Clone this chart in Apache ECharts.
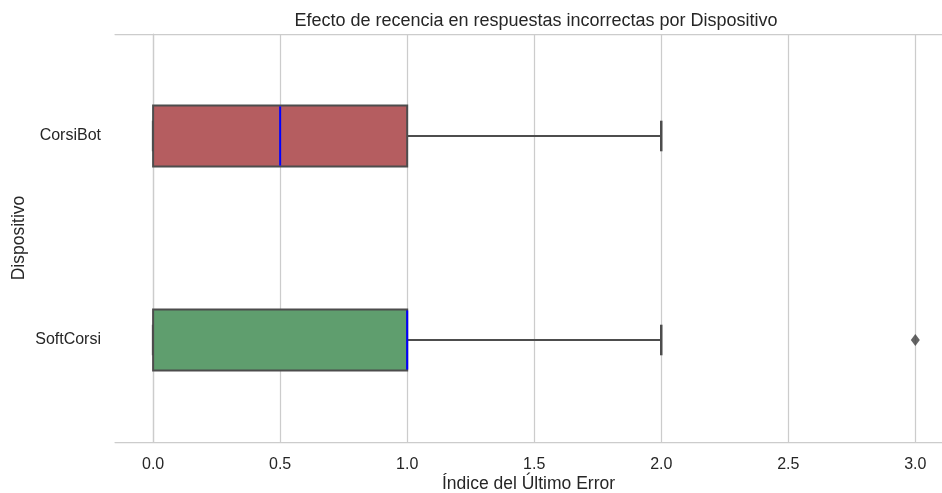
<!DOCTYPE html>
<html>
<head>
<meta charset="utf-8">
<script src="https://cdn.jsdelivr.net/npm/echarts@6/dist/echarts.min.js"></script>
<style>html,body{margin:0;padding:0;background:#fff}#c{width:942px;height:493px}</style>
</head>
<body>
<div id="c"></div>
<script>
const categories = ['CorsiBot', 'SoftCorsi'];
const whiskerLow = [0, 0];
const q1 = [0, 0];
const median = [0.5, 1];
const q3 = [1, 1];
const whiskerHigh = [2, 2];
const outliers = [[3, 'SoftCorsi']];

const fillColors = ['#b55d60', '#5f9e6e'];
const edge = '#4d4d4d';
const FONT = 'Liberation Sans';

const boxData = categories.map((c, i) => [i, whiskerLow[i], q1[i], median[i], q3[i], whiskerHigh[i]]);

const chart = echarts.init(document.getElementById('c'));
chart.setOption({
  animation: false,
  backgroundColor: '#fff',
  title: {
    text: 'Efecto de recencia en respuestas incorrectas por Dispositivo',
    left: 531, textAlign: 'center', top: 7,
    textStyle: { fontFamily: FONT, fontSize: 18, fontWeight: 'normal', color: '#262626' }
  },
  grid: { left: 115, top: 34, right: 0, bottom: 51, outerBoundsMode: 'none', containLabel: false },
  xAxis: [{
    type: 'value', min: -0.15, max: 3.105,
    name: 'Índice del Último Error', nameLocation: 'middle', nameGap: 33, nameMoveOverlap: false,
    nameTextStyle: { fontFamily: FONT, fontSize: 17.5, color: '#262626' },
    axisLine: { show: true, onZero: false, lineStyle: { color: '#cccccc', width: 1.25 } },
    axisTick: { show: false },
    axisLabel: {
      showMinLabel: false, showMaxLabel: false, margin: 15,
      fontFamily: FONT, fontSize: 16, color: '#262626',
      formatter: v => v.toFixed(1)
    },
    splitLine: { show: true, showMinLine: false, showMaxLine: false, lineStyle: { color: '#cccccc', width: 1.25 } }
  }, {
    type: 'value', position: 'top', min: -0.15, max: 3.105,
    axisLine: { show: true, onZero: false, lineStyle: { color: '#cccccc', width: 1.25 } },
    axisTick: { show: false }, axisLabel: { show: false }, splitLine: { show: false }
  }],
  yAxis: {
    type: 'category', data: categories, inverse: true,
    name: 'Dispositivo', nameLocation: 'middle', nameGap: 87, nameRotate: 90, nameMoveOverlap: false,
    nameTextStyle: { fontFamily: FONT, fontSize: 17.5, color: '#262626' },
    axisLine: { show: true, lineStyle: { color: '#cccccc', width: 1.25 } },
    axisTick: { show: false },
    axisLabel: { margin: 14, fontFamily: FONT, fontSize: 16, color: '#262626' },
    splitLine: { show: false }
  },
  series: [
    {
      type: 'custom',
      data: boxData,
      encode: { x: [1, 2, 3, 4, 5], y: 0 },
      renderItem: function (params, api) {
        const ci = api.value(0);
        const band = api.size([0, 1])[1];
        const bh = band * 0.3;
        const cap = bh / 2;
        const pMin = api.coord([api.value(1), ci]);
        const pQ1 = api.coord([api.value(2), ci]);
        const pMed = api.coord([api.value(3), ci]);
        const pQ3 = api.coord([api.value(4), ci]);
        const pMax = api.coord([api.value(5), ci]);
        const y = pQ1[1];
        const lw = { stroke: edge, lineWidth: 2 };
        return {
          type: 'group',
          children: [
            { type: 'line', shape: { x1: pMin[0], y1: y, x2: pQ1[0], y2: y }, style: lw },
            { type: 'line', shape: { x1: pQ3[0], y1: y, x2: pMax[0], y2: y }, style: lw },
            { type: 'line', shape: { x1: pMin[0], y1: y - cap / 2, x2: pMin[0], y2: y + cap / 2 }, style: { stroke: edge, lineWidth: 2.5 } },
            { type: 'line', shape: { x1: pMax[0], y1: y - cap / 2, x2: pMax[0], y2: y + cap / 2 }, style: { stroke: edge, lineWidth: 2.5 } },
            { type: 'rect', shape: { x: pQ1[0], y: y - bh / 2, width: pQ3[0] - pQ1[0], height: bh },
              style: { fill: fillColors[params.dataIndex], stroke: edge, lineWidth: 2 } },
            { type: 'line', shape: { x1: pMed[0], y1: y - bh / 2 + 1, x2: pMed[0], y2: y + bh / 2 - 1 },
              style: { stroke: '#0000ff', lineWidth: 2 } }
          ]
        };
      },
      z: 3
    },
    {
      type: 'scatter',
      data: outliers,
      symbol: 'diamond',
      symbolSize: [9, 12],
      itemStyle: { color: '#3d3d3d' },
      z: 4
    }
  ]
});
</script>
</body>
</html>
